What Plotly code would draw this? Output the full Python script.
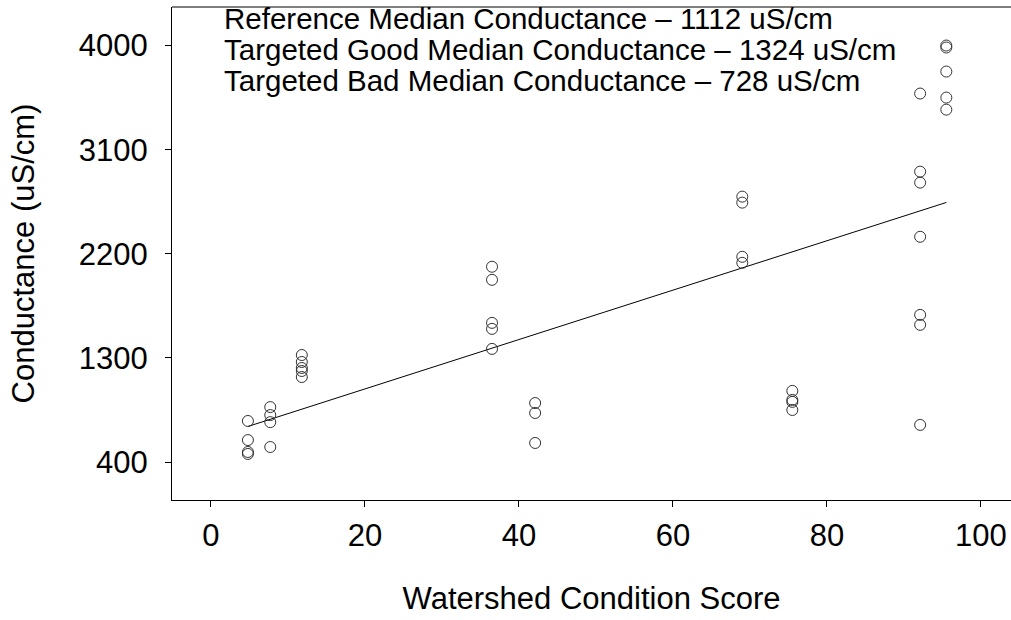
import numpy as np
import plotly.graph_objects as go

# Data
score = (
    [4.8] * 4 + [7.7] * 4 + [11.8] * 5 + [36.5] * 5 + [42.1] * 3
    + [69.0] * 4 + [75.5] * 4 + [92.1] * 7 + [95.5] * 5
)
conductance = [
    755, 590, 487, 470,
    875, 806, 745, 530,
    1325, 1265, 1213, 1187, 1135,
    2088, 1975, 1603, 1551, 1378,
    910, 824, 565,
    2694, 2642, 2174, 2122,
    1015, 937, 920, 850,
    3585, 2910, 2815, 2347, 1672, 1586, 721,
    4000, 3983, 3775, 3550, 3446,
]
y_ticks = [400, 1300, 2200, 3100, 4000]
x_ticks = [0, 20, 40, 60, 80, 100]
notes = [
    "Reference Median Conductance \u2013 1112 uS/cm",
    "Targeted Good Median Conductance \u2013 1324 uS/cm",
    "Targeted Bad Median Conductance \u2013 728 uS/cm",
]

xs = np.array(score, dtype=float)
ys = np.array(conductance, dtype=float)
slope, intercept = np.polyfit(xs, ys, 1)
fit_x = np.array([xs.min(), xs.max()])
fit_y = intercept + slope * fit_x

FONT = "Liberation Sans, Arial, sans-serif"

fig = go.Figure()
fig.add_trace(go.Scatter(
    x=fit_x, y=fit_y, mode="lines",
    line=dict(color="black", width=1), showlegend=False, hoverinfo="skip",
))
fig.add_trace(go.Scatter(
    x=score, y=conductance, mode="markers",
    marker=dict(symbol="circle-open", size=11, color="#333333", line=dict(width=1)),
    showlegend=False,
))

note_y = [0.9757, 0.9128, 0.8499]
for txt, yy in zip(notes, note_y):
    fig.add_annotation(
        text=txt, xref="paper", yref="paper", x=0.0596, y=yy,
        xanchor="left", yanchor="middle", showarrow=False,
        font=dict(family=FONT, size=29.5, color="black"),
    )

# top frame line only (the reference frame is open on the right)
fig.add_shape(
    type="line", xref="paper", yref="paper", x0=0, x1=1, y0=1, y1=1,
    line=dict(color="black", width=1),
)

fig.update_layout(
    width=1011, height=620,
    margin=dict(l=172, r=0, t=7, b=120, autoexpand=False),
    paper_bgcolor="white", plot_bgcolor="white",
    font=dict(family=FONT, color="black"),
    xaxis=dict(
        range=[-5.06, 103.9], tickvals=x_ticks, ticks="outside", ticklen=6,
        tickcolor="black", linecolor="black", linewidth=1, showline=True,
        mirror=False, showgrid=False, zeroline=False,
        tickfont=dict(size=31), ticklabelstandoff=2,
        title=dict(text="Watershed Condition Score", font=dict(size=31), standoff=35),
    ),
    yaxis=dict(
        range=[72, 4333], tickvals=y_ticks, ticks="outside", ticklen=6,
        tickcolor="black", linecolor="black", linewidth=1, showline=True,
        mirror=False, showgrid=False, zeroline=False,
        tickfont=dict(size=31), ticklabelstandoff=11,
        title=dict(text="Conductance (uS/cm)", font=dict(size=31), standoff=34),
    ),
)

fig.write_html(
    "out.html",
    config={"displayModeBar": False},
    post_script="document.body.style.margin='0';document.body.style.overflow='hidden';",
)
